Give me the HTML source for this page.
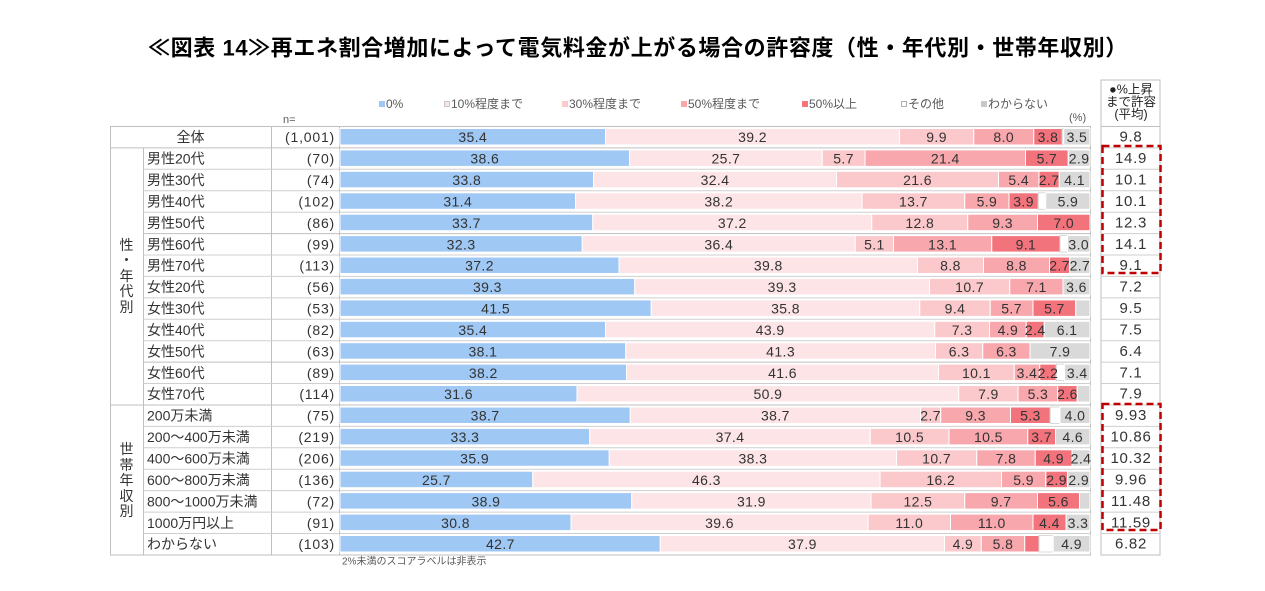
<!DOCTYPE html>
<html><head><meta charset="utf-8">
<style>
html,body{margin:0;padding:0;background:#fff;}
svg{display:block;}
text{font-family:"Liberation Sans","Noto Sans CJK JP",sans-serif;}
.b0{fill:#9fc8f5;stroke:#fff;stroke-width:1}
.b1{fill:#fde4e7;stroke:#fff;stroke-width:1}
.b2{fill:#fbc9cc;stroke:#fff;stroke-width:1}
.b3{fill:#f8a7ad;stroke:#fff;stroke-width:1}
.b4{fill:#f2737c;stroke:#fff;stroke-width:1}
.b5{fill:#fff;stroke:#d0d0d0;stroke-width:0.8}
.b6{fill:#d9d9d9;stroke:#fff;stroke-width:1}
.v{font-size:14px;fill:#333;text-anchor:middle;dominant-baseline:central;letter-spacing:0.4px}
.l{font-size:14px;fill:#333;dominant-baseline:central}
.n{font-size:14px;fill:#333;dominant-baseline:central;text-anchor:end;letter-spacing:0.8px}
.r{font-size:15px;fill:#333;dominant-baseline:central;text-anchor:middle;letter-spacing:0.7px}
.lg{font-size:12px;fill:#595959;dominant-baseline:central}
.ln{stroke:#cfcfcf;stroke-width:1}
.g{font-size:14px;fill:#333;text-anchor:middle;dominant-baseline:central}
</style></head>
<body>
<svg width="1265" height="591" viewBox="0 0 1265 591" xmlns="http://www.w3.org/2000/svg">
<rect width="1265" height="591" fill="#fff"/>
<!-- title -->
<text x="148" y="48" font-size="22" font-weight="bold" fill="#000" dominant-baseline="central" letter-spacing="0.6">≪図表 14≫再エネ割合増加によって電気料金が上がる場合の許容度（性・年代別・世帯年収別）</text>

<!-- legend -->
<rect x="379" y="101" width="6" height="6" fill="#9fc8f5"/><text class="lg" x="386" y="104">0%</text>
<rect x="444.5" y="101.5" width="5" height="5" fill="#fde4e7" stroke="#bbb" stroke-width="0.8"/><text class="lg" x="451" y="104">10%程度まで</text>
<rect x="562" y="101" width="6" height="6" fill="#fbc9cc"/><text class="lg" x="569" y="104">30%程度まで</text>
<rect x="681" y="101" width="6" height="6" fill="#f8a7ad"/><text class="lg" x="688" y="104">50%程度まで</text>
<rect x="802" y="101" width="6" height="6" fill="#f2737c"/><text class="lg" x="809" y="104">50%以上</text>
<rect x="901.5" y="101.5" width="5" height="5" fill="#fff" stroke="#999" stroke-width="0.8"/><text class="lg" x="908" y="104">その他</text>
<rect x="981" y="101" width="6" height="6" fill="#c8c8c8"/><text class="lg" x="988" y="104">わからない</text>
<text x="1069" y="118" font-size="11" fill="#595959" dominant-baseline="central">(%)</text>
<text x="283" y="120" font-size="11" fill="#595959" dominant-baseline="central">n=</text>

<!-- right column header -->
<rect x="1101" y="80" width="59" height="475" fill="none" stroke="#bfbfbf" stroke-width="1"/>
<text x="1131" y="89.5" font-size="12.5" fill="#222" text-anchor="middle" dominant-baseline="central">●%上昇</text>
<text x="1131" y="102" font-size="12.5" fill="#222" text-anchor="middle" dominant-baseline="central">まで許容</text>
<text x="1131" y="114.5" font-size="12.5" fill="#222" text-anchor="middle" dominant-baseline="central">(平均)</text>

<!-- table frame lines -->
<g class="ln">
<line x1="110" y1="126.5" x2="1091" y2="126.5" style="stroke:#bfbfbf"/>
<line x1="110" y1="555" x2="1091" y2="555" style="stroke:#bfbfbf"/>
<line x1="110.5" y1="126.5" x2="110.5" y2="555" style="stroke:#bfbfbf"/>
<line x1="1090.5" y1="126.5" x2="1090.5" y2="555" style="stroke:#bfbfbf"/>
<line x1="143.5" y1="147.9" x2="143.5" y2="555" style="stroke:#bfbfbf"/>
<line x1="271.5" y1="126.5" x2="271.5" y2="555" style="stroke:#bfbfbf"/>
<line x1="339.5" y1="126.5" x2="339.5" y2="555" style="stroke:#bfbfbf"/>
<line x1="110" y1="147.9" x2="1091" y2="147.9" style="stroke:#bfbfbf"/>
<line x1="143" y1="169.3" x2="1091" y2="169.3"/>
<line x1="143" y1="190.8" x2="1091" y2="190.8"/>
<line x1="143" y1="212.2" x2="1091" y2="212.2"/>
<line x1="143" y1="233.6" x2="1091" y2="233.6" style="stroke:#bfbfbf"/>
<line x1="143" y1="255.0" x2="1091" y2="255.0"/>
<line x1="143" y1="276.4" x2="1091" y2="276.4"/>
<line x1="143" y1="297.9" x2="1091" y2="297.9"/>
<line x1="143" y1="319.3" x2="1091" y2="319.3"/>
<line x1="143" y1="340.7" x2="1091" y2="340.7"/>
<line x1="143" y1="362.1" x2="1091" y2="362.1" style="stroke:#bfbfbf"/>
<line x1="143" y1="383.5" x2="1091" y2="383.5"/>
<line x1="110" y1="405.0" x2="1091" y2="405.0" style="stroke:#bfbfbf"/>
<line x1="143" y1="426.4" x2="1091" y2="426.4"/>
<line x1="143" y1="447.8" x2="1091" y2="447.8"/>
<line x1="143" y1="469.2" x2="1091" y2="469.2"/>
<line x1="143" y1="490.6" x2="1091" y2="490.6"/>
<line x1="143" y1="512.1" x2="1091" y2="512.1"/>
<line x1="143" y1="533.5" x2="1091" y2="533.5"/>
<!-- right column rows -->
<line x1="1101" y1="126.5" x2="1160" y2="126.5" style="stroke:#bfbfbf"/>
<line x1="1101" y1="147.9" x2="1160" y2="147.9"/>
<line x1="1101" y1="169.3" x2="1160" y2="169.3"/>
<line x1="1101" y1="190.8" x2="1160" y2="190.8"/>
<line x1="1101" y1="212.2" x2="1160" y2="212.2"/>
<line x1="1101" y1="233.6" x2="1160" y2="233.6"/>
<line x1="1101" y1="255.0" x2="1160" y2="255.0"/>
<line x1="1101" y1="276.4" x2="1160" y2="276.4"/>
<line x1="1101" y1="297.9" x2="1160" y2="297.9"/>
<line x1="1101" y1="319.3" x2="1160" y2="319.3"/>
<line x1="1101" y1="340.7" x2="1160" y2="340.7"/>
<line x1="1101" y1="362.1" x2="1160" y2="362.1"/>
<line x1="1101" y1="383.5" x2="1160" y2="383.5"/>
<line x1="1101" y1="405.0" x2="1160" y2="405.0"/>
<line x1="1101" y1="426.4" x2="1160" y2="426.4"/>
<line x1="1101" y1="447.8" x2="1160" y2="447.8"/>
<line x1="1101" y1="469.2" x2="1160" y2="469.2"/>
<line x1="1101" y1="490.6" x2="1160" y2="490.6"/>
<line x1="1101" y1="512.1" x2="1160" y2="512.1"/>
<line x1="1101" y1="533.5" x2="1160" y2="533.5"/>
</g>

<!-- group vertical labels -->
<text class="g" x="126.5" y="245">性</text>
<text class="g" x="126.5" y="260">・</text>
<text class="g" x="126.5" y="276">年</text>
<text class="g" x="126.5" y="291">代</text>
<text class="g" x="126.5" y="307">別</text>
<text class="g" x="126.5" y="449">世</text>
<text class="g" x="126.5" y="465">帯</text>
<text class="g" x="126.5" y="480">年</text>
<text class="g" x="126.5" y="496">収</text>
<text class="g" x="126.5" y="511">別</text>

<!-- Row 0 全体 -->
<g transform="translate(0,126.5)">
<text class="l" x="190.5" y="10.7" text-anchor="middle">全体</text><text class="n" x="335" y="10.7">(1,001)</text>
<rect class="b0" x="340" y="2" width="265.5" height="16.5"/><rect class="b1" x="605.5" y="2" width="294" height="16.5"/><rect class="b2" x="899.5" y="2" width="74.25" height="16.5"/><rect class="b3" x="973.75" y="2" width="60" height="16.5"/><rect class="b4" x="1033.75" y="2" width="28.5" height="16.5"/><rect class="b5" x="1062.25" y="2" width="1.5" height="16.5"/><rect class="b6" x="1063.75" y="2" width="26.25" height="16.5"/>
<text class="v" x="472.75" y="10.7">35.4</text><text class="v" x="752.5" y="10.7">39.2</text><text class="v" x="936.6" y="10.7">9.9</text><text class="v" x="1003.75" y="10.7">8.0</text><text class="v" x="1048" y="10.7">3.8</text><text class="v" x="1076.9" y="10.7">3.5</text>
<text class="r" x="1131" y="10.7">9.8</text>
</g>
<!-- Row 1 -->
<g transform="translate(0,147.9)">
<text class="l" x="147" y="10.7">男性20代</text><text class="n" x="335" y="10.7">(70)</text>
<rect class="b0" x="340" y="2" width="289.5" height="16.5"/><rect class="b1" x="629.5" y="2" width="192.75" height="16.5"/><rect class="b2" x="822.25" y="2" width="42.75" height="16.5"/><rect class="b3" x="865" y="2" width="160.5" height="16.5"/><rect class="b4" x="1025.5" y="2" width="42.75" height="16.5"/><rect class="b6" x="1068.25" y="2" width="21.75" height="16.5"/>
<text class="v" x="484.75" y="10.7">38.6</text><text class="v" x="725.9" y="10.7">25.7</text><text class="v" x="843.6" y="10.7">5.7</text><text class="v" x="945.25" y="10.7">21.4</text><text class="v" x="1046.9" y="10.7">5.7</text><text class="v" x="1079.1" y="10.7">2.9</text>
<text class="r" x="1131" y="10.7">14.9</text>
</g>
<!-- Row 2 -->
<g transform="translate(0,169.3)">
<text class="l" x="147" y="10.7">男性30代</text><text class="n" x="335" y="10.7">(74)</text>
<rect class="b0" x="340" y="2" width="253.5" height="16.5"/><rect class="b1" x="593.5" y="2" width="243" height="16.5"/><rect class="b2" x="836.5" y="2" width="162" height="16.5"/><rect class="b3" x="998.5" y="2" width="40.5" height="16.5"/><rect class="b4" x="1039" y="2" width="20.25" height="16.5"/><rect class="b6" x="1059.25" y="2" width="30.75" height="16.5"/>
<text class="v" x="466.75" y="10.7">33.8</text><text class="v" x="715" y="10.7">32.4</text><text class="v" x="917.5" y="10.7">21.6</text><text class="v" x="1018.75" y="10.7">5.4</text><text class="v" x="1049.1" y="10.7">2.7</text><text class="v" x="1074.6" y="10.7">4.1</text>
<text class="r" x="1131" y="10.7">10.1</text>
</g>
<!-- Row 3 -->
<g transform="translate(0,190.8)">
<text class="l" x="147" y="10.7">男性40代</text><text class="n" x="335" y="10.7">(102)</text>
<rect class="b0" x="340" y="2" width="235.5" height="16.5"/><rect class="b1" x="575.5" y="2" width="286.5" height="16.5"/><rect class="b2" x="862" y="2" width="102.75" height="16.5"/><rect class="b3" x="964.75" y="2" width="44.25" height="16.5"/><rect class="b4" x="1009" y="2" width="29.25" height="16.5"/><rect class="b5" x="1038.25" y="2" width="7.5" height="16.5"/><rect class="b6" x="1045.75" y="2" width="44.25" height="16.5"/>
<text class="v" x="457.75" y="10.7">31.4</text><text class="v" x="718.75" y="10.7">38.2</text><text class="v" x="913.4" y="10.7">13.7</text><text class="v" x="986.9" y="10.7">5.9</text><text class="v" x="1023.6" y="10.7">3.9</text><text class="v" x="1067.9" y="10.7">5.9</text>
<text class="r" x="1131" y="10.7">10.1</text>
</g>
<!-- Row 4 -->
<g transform="translate(0,212.2)">
<text class="l" x="147" y="10.7">男性50代</text><text class="n" x="335" y="10.7">(86)</text>
<rect class="b0" x="340" y="2" width="252.75" height="16.5"/><rect class="b1" x="592.75" y="2" width="279" height="16.5"/><rect class="b2" x="871.75" y="2" width="96" height="16.5"/><rect class="b3" x="967.75" y="2" width="69.75" height="16.5"/><rect class="b4" x="1037.5" y="2" width="52.5" height="16.5"/>
<text class="v" x="466.4" y="10.7">33.7</text><text class="v" x="732.25" y="10.7">37.2</text><text class="v" x="919.75" y="10.7">12.8</text><text class="v" x="1002.6" y="10.7">9.3</text><text class="v" x="1063.75" y="10.7">7.0</text>
<text class="r" x="1131" y="10.7">12.3</text>
</g>
<!-- Row 5 -->
<g transform="translate(0,233.6)">
<text class="l" x="147" y="10.7">男性60代</text><text class="n" x="335" y="10.7">(99)</text>
<rect class="b0" x="340" y="2" width="242.25" height="16.5"/><rect class="b1" x="582.25" y="2" width="273" height="16.5"/><rect class="b2" x="855.25" y="2" width="38.25" height="16.5"/><rect class="b3" x="893.5" y="2" width="98.25" height="16.5"/><rect class="b4" x="991.75" y="2" width="68.25" height="16.5"/><rect class="b5" x="1060" y="2" width="7.5" height="16.5"/><rect class="b6" x="1067.5" y="2" width="22.5" height="16.5"/>
<text class="v" x="461.1" y="10.7">32.3</text><text class="v" x="718.75" y="10.7">36.4</text><text class="v" x="874.4" y="10.7">5.1</text><text class="v" x="942.6" y="10.7">13.1</text><text class="v" x="1025.9" y="10.7">9.1</text><text class="v" x="1078.75" y="10.7">3.0</text>
<text class="r" x="1131" y="10.7">14.1</text>
</g>
<!-- Row 6 -->
<g transform="translate(0,255.0)">
<text class="l" x="147" y="10.7">男性70代</text><text class="n" x="335" y="10.7">(113)</text>
<rect class="b0" x="340" y="2" width="279" height="16.5"/><rect class="b1" x="619" y="2" width="298.5" height="16.5"/><rect class="b2" x="917.5" y="2" width="66" height="16.5"/><rect class="b3" x="983.5" y="2" width="66" height="16.5"/><rect class="b4" x="1049.5" y="2" width="20.25" height="16.5"/><rect class="b6" x="1069.75" y="2" width="20.25" height="16.5"/>
<text class="v" x="479.5" y="10.7">37.2</text><text class="v" x="768.25" y="10.7">39.8</text><text class="v" x="950.5" y="10.7">8.8</text><text class="v" x="1016.5" y="10.7">8.8</text><text class="v" x="1059.6" y="10.7">2.7</text><text class="v" x="1079.9" y="10.7">2.7</text>
<text class="r" x="1131" y="10.7">9.1</text>
</g>
<!-- Row 7 -->
<g transform="translate(0,276.4)">
<text class="l" x="147" y="10.7">女性20代</text><text class="n" x="335" y="10.7">(56)</text>
<rect class="b0" x="340" y="2" width="294.75" height="16.5"/><rect class="b1" x="634.75" y="2" width="294.75" height="16.5"/><rect class="b2" x="929.5" y="2" width="80.25" height="16.5"/><rect class="b3" x="1009.75" y="2" width="53.25" height="16.5"/><rect class="b6" x="1063" y="2" width="27" height="16.5"/>
<text class="v" x="487.4" y="10.7">39.3</text><text class="v" x="782.1" y="10.7">39.3</text><text class="v" x="969.6" y="10.7">10.7</text><text class="v" x="1036.4" y="10.7">7.1</text><text class="v" x="1076.5" y="10.7">3.6</text>
<text class="r" x="1131" y="10.7">7.2</text>
</g>
<!-- Row 8 -->
<g transform="translate(0,297.9)">
<text class="l" x="147" y="10.7">女性30代</text><text class="n" x="335" y="10.7">(53)</text>
<rect class="b0" x="340" y="2" width="311.25" height="16.5"/><rect class="b1" x="651.25" y="2" width="268.5" height="16.5"/><rect class="b2" x="919.75" y="2" width="70.5" height="16.5"/><rect class="b3" x="990.25" y="2" width="42.75" height="16.5"/><rect class="b4" x="1033" y="2" width="42.75" height="16.5"/><rect class="b6" x="1075.75" y="2" width="14.25" height="16.5"/>
<text class="v" x="495.6" y="10.7">41.5</text><text class="v" x="785.5" y="10.7">35.8</text><text class="v" x="955" y="10.7">9.4</text><text class="v" x="1011.6" y="10.7">5.7</text><text class="v" x="1054.4" y="10.7">5.7</text>
<text class="r" x="1131" y="10.7">9.5</text>
</g>
<!-- Row 9 -->
<g transform="translate(0,319.3)">
<text class="l" x="147" y="10.7">女性40代</text><text class="n" x="335" y="10.7">(82)</text>
<rect class="b0" x="340" y="2" width="265.5" height="16.5"/><rect class="b1" x="605.5" y="2" width="329.25" height="16.5"/><rect class="b2" x="934.75" y="2" width="54.75" height="16.5"/><rect class="b3" x="989.5" y="2" width="36.75" height="16.5"/><rect class="b4" x="1026.25" y="2" width="18" height="16.5"/><rect class="b6" x="1044.25" y="2" width="45.75" height="16.5"/>
<text class="v" x="472.75" y="10.7">35.4</text><text class="v" x="770.1" y="10.7">43.9</text><text class="v" x="962.1" y="10.7">7.3</text><text class="v" x="1007.9" y="10.7">4.9</text><text class="v" x="1035.25" y="10.7">2.4</text><text class="v" x="1067.1" y="10.7">6.1</text>
<text class="r" x="1131" y="10.7">7.5</text>
</g>
<!-- Row 10 -->
<g transform="translate(0,340.7)">
<text class="l" x="147" y="10.7">女性50代</text><text class="n" x="335" y="10.7">(63)</text>
<rect class="b0" x="340" y="2" width="285.75" height="16.5"/><rect class="b1" x="625.75" y="2" width="309.75" height="16.5"/><rect class="b2" x="935.5" y="2" width="47.25" height="16.5"/><rect class="b3" x="982.75" y="2" width="47.25" height="16.5"/><rect class="b6" x="1030" y="2" width="60" height="16.5"/>
<text class="v" x="482.9" y="10.7">38.1</text><text class="v" x="780.6" y="10.7">41.3</text><text class="v" x="959.1" y="10.7">6.3</text><text class="v" x="1006.4" y="10.7">6.3</text><text class="v" x="1060" y="10.7">7.9</text>
<text class="r" x="1131" y="10.7">6.4</text>
</g>
<!-- Row 11 -->
<g transform="translate(0,362.1)">
<text class="l" x="147" y="10.7">女性60代</text><text class="n" x="335" y="10.7">(89)</text>
<rect class="b0" x="340" y="2" width="286.5" height="16.5"/><rect class="b1" x="626.5" y="2" width="312" height="16.5"/><rect class="b2" x="938.5" y="2" width="75.75" height="16.5"/><rect class="b3" x="1014.25" y="2" width="25.5" height="16.5"/><rect class="b4" x="1039.75" y="2" width="16.5" height="16.5"/><rect class="b5" x="1056.25" y="2" width="8.25" height="16.5"/><rect class="b6" x="1064.5" y="2" width="25.5" height="16.5"/>
<text class="v" x="483.25" y="10.7">38.2</text><text class="v" x="782.5" y="10.7">41.6</text><text class="v" x="976.4" y="10.7">10.1</text><text class="v" x="1027" y="10.7">3.4</text><text class="v" x="1048" y="10.7">2.2</text><text class="v" x="1077.25" y="10.7">3.4</text>
<text class="r" x="1131" y="10.7">7.1</text>
</g>
<!-- Row 12 -->
<g transform="translate(0,383.5)">
<text class="l" x="147" y="10.7">女性70代</text><text class="n" x="335" y="10.7">(114)</text>
<rect class="b0" x="340" y="2" width="237" height="16.5"/><rect class="b1" x="577" y="2" width="381.75" height="16.5"/><rect class="b2" x="958.75" y="2" width="59.25" height="16.5"/><rect class="b3" x="1018" y="2" width="39.75" height="16.5"/><rect class="b4" x="1057.75" y="2" width="19.5" height="16.5"/><rect class="b6" x="1077.25" y="2" width="12.75" height="16.5"/>
<text class="v" x="458.5" y="10.7">31.6</text><text class="v" x="767.9" y="10.7">50.9</text><text class="v" x="988.4" y="10.7">7.9</text><text class="v" x="1037.9" y="10.7">5.3</text><text class="v" x="1067.5" y="10.7">2.6</text>
<text class="r" x="1131" y="10.7">7.9</text>
</g>
<!-- Row 13 -->
<g transform="translate(0,405.0)">
<text class="l" x="147" y="10.7">200万未満</text><text class="n" x="335" y="10.7">(75)</text>
<rect class="b0" x="340" y="2" width="290.25" height="16.5"/><rect class="b1" x="630.25" y="2" width="290.25" height="16.5"/><rect class="b2" x="920.5" y="2" width="20.25" height="16.5"/><rect class="b3" x="940.75" y="2" width="69.75" height="16.5"/><rect class="b4" x="1010.5" y="2" width="39.75" height="16.5"/><rect class="b5" x="1050.25" y="2" width="9.75" height="16.5"/><rect class="b6" x="1060" y="2" width="30" height="16.5"/>
<text class="v" x="485.1" y="10.7">38.7</text><text class="v" x="775.4" y="10.7">38.7</text><text class="v" x="930.6" y="10.7">2.7</text><text class="v" x="975.6" y="10.7">9.3</text><text class="v" x="1030.4" y="10.7">5.3</text><text class="v" x="1075" y="10.7">4.0</text>
<text class="r" x="1131" y="10.7">9.93</text>
</g>
<!-- Row 14 -->
<g transform="translate(0,426.4)">
<text class="l" x="147" y="10.7">200～400万未満</text><text class="n" x="335" y="10.7">(219)</text>
<rect class="b0" x="340" y="2" width="249.75" height="16.5"/><rect class="b1" x="589.75" y="2" width="280.5" height="16.5"/><rect class="b2" x="870.25" y="2" width="78.75" height="16.5"/><rect class="b3" x="949" y="2" width="78.75" height="16.5"/><rect class="b4" x="1027.75" y="2" width="27.75" height="16.5"/><rect class="b6" x="1055.5" y="2" width="34.5" height="16.5"/>
<text class="v" x="464.9" y="10.7">33.3</text><text class="v" x="730" y="10.7">37.4</text><text class="v" x="909.6" y="10.7">10.5</text><text class="v" x="988.4" y="10.7">10.5</text><text class="v" x="1041.6" y="10.7">3.7</text><text class="v" x="1072.75" y="10.7">4.6</text>
<text class="r" x="1131" y="10.7">10.86</text>
</g>
<!-- Row 15 -->
<g transform="translate(0,447.8)">
<text class="l" x="147" y="10.7">400～600万未満</text><text class="n" x="335" y="10.7">(206)</text>
<rect class="b0" x="340" y="2" width="269.25" height="16.5"/><rect class="b1" x="609.25" y="2" width="287.25" height="16.5"/><rect class="b2" x="896.5" y="2" width="80.25" height="16.5"/><rect class="b3" x="976.75" y="2" width="58.5" height="16.5"/><rect class="b4" x="1035.25" y="2" width="36.75" height="16.5"/><rect class="b6" x="1072" y="2" width="18" height="16.5"/>
<text class="v" x="474.6" y="10.7">35.9</text><text class="v" x="752.9" y="10.7">38.3</text><text class="v" x="936.6" y="10.7">10.7</text><text class="v" x="1006" y="10.7">7.8</text><text class="v" x="1053.6" y="10.7">4.9</text><text class="v" x="1081" y="10.7">2.4</text>
<text class="r" x="1131" y="10.7">10.32</text>
</g>
<!-- Row 16 -->
<g transform="translate(0,469.2)">
<text class="l" x="147" y="10.7">600～800万未満</text><text class="n" x="335" y="10.7">(136)</text>
<rect class="b0" x="340" y="2" width="192.75" height="16.5"/><rect class="b1" x="532.75" y="2" width="347.25" height="16.5"/><rect class="b2" x="880" y="2" width="121.5" height="16.5"/><rect class="b3" x="1001.5" y="2" width="44.25" height="16.5"/><rect class="b4" x="1045.75" y="2" width="21.75" height="16.5"/><rect class="b6" x="1067.5" y="2" width="22.5" height="16.5"/>
<text class="v" x="436.4" y="10.7">25.7</text><text class="v" x="706.4" y="10.7">46.3</text><text class="v" x="940.75" y="10.7">16.2</text><text class="v" x="1023.6" y="10.7">5.9</text><text class="v" x="1056.6" y="10.7">2.9</text><text class="v" x="1078.75" y="10.7">2.9</text>
<text class="r" x="1131" y="10.7">9.96</text>
</g>
<!-- Row 17 -->
<g transform="translate(0,490.6)">
<text class="l" x="147" y="10.7">800～1000万未満</text><text class="n" x="335" y="10.7">(72)</text>
<rect class="b0" x="340" y="2" width="291.75" height="16.5"/><rect class="b1" x="631.75" y="2" width="239.25" height="16.5"/><rect class="b2" x="871" y="2" width="93.75" height="16.5"/><rect class="b3" x="964.75" y="2" width="72.75" height="16.5"/><rect class="b4" x="1037.5" y="2" width="42" height="16.5"/><rect class="b6" x="1079.5" y="2" width="10.5" height="16.5"/>
<text class="v" x="485.9" y="10.7">38.9</text><text class="v" x="751.4" y="10.7">31.9</text><text class="v" x="917.9" y="10.7">12.5</text><text class="v" x="1001.1" y="10.7">9.7</text><text class="v" x="1058.5" y="10.7">5.6</text>
<text class="r" x="1131" y="10.7">11.48</text>
</g>
<!-- Row 18 -->
<g transform="translate(0,512.1)">
<text class="l" x="147" y="10.7">1000万円以上</text><text class="n" x="335" y="10.7">(91)</text>
<rect class="b0" x="340" y="2" width="231" height="16.5"/><rect class="b1" x="571" y="2" width="297" height="16.5"/><rect class="b2" x="868" y="2" width="82.5" height="16.5"/><rect class="b3" x="950.5" y="2" width="82.5" height="16.5"/><rect class="b4" x="1033" y="2" width="33" height="16.5"/><rect class="b6" x="1066" y="2" width="24" height="16.5"/>
<text class="v" x="455.5" y="10.7">30.8</text><text class="v" x="719.5" y="10.7">39.6</text><text class="v" x="909.25" y="10.7">11.0</text><text class="v" x="991.75" y="10.7">11.0</text><text class="v" x="1049.5" y="10.7">4.4</text><text class="v" x="1078" y="10.7">3.3</text>
<text class="r" x="1131" y="10.7">11.59</text>
</g>
<!-- Row 19 -->
<g transform="translate(0,533.5)">
<text class="l" x="147" y="10.7">わからない</text><text class="n" x="335" y="10.7">(103)</text>
<rect class="b0" x="340" y="2" width="320.25" height="16.5"/><rect class="b1" x="660.25" y="2" width="284.25" height="16.5"/><rect class="b2" x="944.5" y="2" width="36.75" height="16.5"/><rect class="b3" x="981.25" y="2" width="43.5" height="16.5"/><rect class="b4" x="1024.75" y="2" width="14.25" height="16.5"/><rect class="b5" x="1039" y="2" width="14.25" height="16.5"/><rect class="b6" x="1053.25" y="2" width="36.75" height="16.5"/>
<text class="v" x="500.4" y="10.7">42.7</text><text class="v" x="802.4" y="10.7">37.9</text><text class="v" x="962.9" y="10.7">4.9</text><text class="v" x="1003" y="10.7">5.8</text><text class="v" x="1071.6" y="10.7">4.9</text>
<text class="r" x="1131" y="10.7">6.82</text>
</g>

<!-- red dashed highlight boxes -->
<rect x="1102.5" y="146" width="58" height="127" fill="none" stroke="#c00000" stroke-width="2.5" stroke-dasharray="7,4"/>
<rect x="1102.5" y="404" width="58" height="126" fill="none" stroke="#c00000" stroke-width="2.5" stroke-dasharray="7,4"/>

<!-- footnote -->
<text x="342" y="562" font-size="10" fill="#595959" dominant-baseline="central">2%未満のスコアラベルは非表示</text>
</svg>
</body></html>
